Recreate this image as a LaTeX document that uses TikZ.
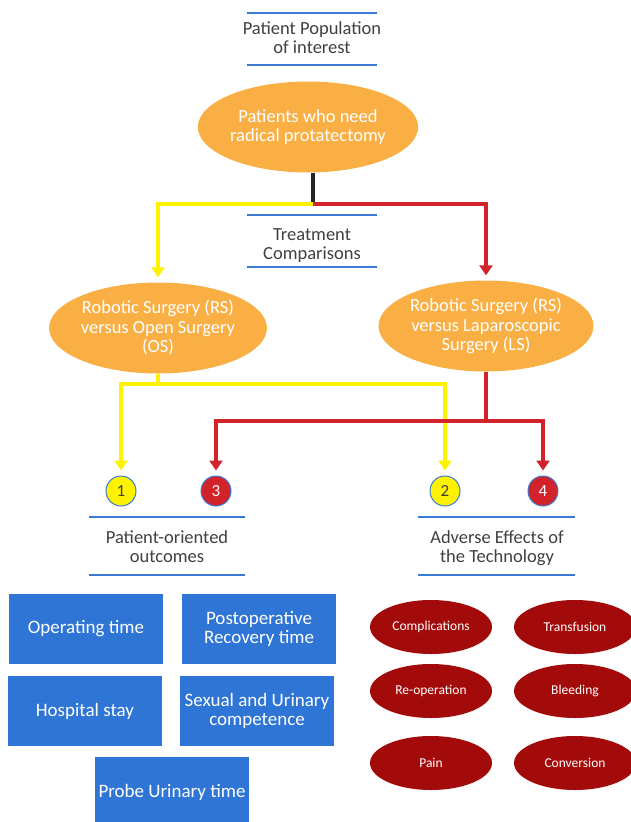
\documentclass[tikz,border=0pt]{standalone}
\usepackage{fontspec}
\setmainfont{Carlito}
\usetikzlibrary{positioning,arrows.meta}
\usetikzlibrary{shapes.geometric}

\definecolor{orangeFill}{HTML}{FAAF45}
\definecolor{yelLine}{HTML}{FFF200}
\definecolor{redLine}{HTML}{D2232A}
\definecolor{barBlue}{HTML}{3A7BD5}
\definecolor{boxBlue}{HTML}{2E75D5}
\definecolor{darkRed}{HTML}{A30B0B}
\definecolor{txtGray}{HTML}{404040}

\tikzset{
  heading/.style={text=txtGray, align=center, font=\fontsize{18.5}{19}\selectfont},
  bar/.style={barBlue, line width=2.5pt},
  treat/.style={ellipse, fill=orangeFill, text=white, align=center, inner sep=0pt,
    minimum width=210pt, minimum height=91pt, font=\fontsize{18.5}{19.5}\selectfont},
  num/.style={circle, draw=barBlue, line width=1pt, minimum size=30pt, inner sep=0pt,
    font=\fontsize{17}{17}\selectfont},
  outbox/.style={rectangle, fill=boxBlue, text=white, align=center, inner sep=0pt,
    minimum width=154pt, minimum height=70pt, font=\fontsize{19}{19.5}\selectfont},
  effect/.style={ellipse, fill=darkRed, text=white, inner sep=0pt,
    minimum width=122pt, minimum height=54pt, font=\fontsize{13.5}{15}\selectfont},
  yel/.style={yelLine, line width=4pt},
  rd/.style={redLine, line width=4pt},
  tip/.style={-{Triangle[width=13pt,length=10pt]}, shorten >=5pt}
}

\begin{document}
\begin{tikzpicture}[x=1pt,y=-1pt]
  \useasboundingbox (0,0) rectangle (630,822);

  % population
  \draw[bar] (247,13) -- (377,13);
  \node[heading] (poptitle) at (312,38) {Patient Population\\of interest};
  \draw[bar] (247,65) -- (377,65);
  \node[treat] (pop) at (308,127) {Patients who need\\radical protatectomy};

  % comparisons
  \coordinate (split) at (313,204);
  \draw[bar] (247,215) -- (377,215);
  \node[heading] (treattitle) at (312,246) {Treatment\\Comparisons};
  \draw[bar] (247,267) -- (377,267);
  \node[treat] (rsos) at (158,328) {Robotic Surgery (RS)\\versus Open Surgery\\(OS)};
  \node[treat] (rsls) at (486,326) {Robotic Surgery (RS)\\versus Laparoscopic\\Surgery (LS)};

  \draw[black!85, line width=4pt] (split |- pop.south) -- (split);
  \draw[yel,tip] (split) -| (rsos.north);
  \draw[rd,tip] (split) -| (rsls.north);

  % outcome numbers
  \node[num, fill=yelLine, text=txtGray] (n1) at (121,491) {1};
  \node[num, fill=redLine, text=white] (n3) at (216,491) {3};
  \node[num, fill=yelLine, text=txtGray] (n2) at (445,491) {2};
  \node[num, fill=redLine, text=white] (n4) at (543,491) {4};

  \coordinate (ysplit) at (158,384);
  \coordinate (rsplit) at (486,421);
  \draw[yel] (rsos.south) -- (ysplit);
  \draw[yel,tip] (ysplit) -| (n1.north);
  \draw[yel,tip] (ysplit) -| (n2.north);
  \draw[rd] (rsls.south) -- (rsplit);
  \draw[rd,tip] (rsplit) -| (n3.north);
  \draw[rd,tip] (rsplit) -| (n4.north);

  % headings of outcome groups
  \draw[bar] (89,517) -- (245,517);
  \node[heading] (patout) at (167,547) {Patient-oriented\\outcomes};
  \draw[bar] (89,575) -- (245,575);
  \draw[bar] (418,517) -- (575,517);
  \node[heading] (adverse) at (497,548) {Adverse Effects of\\the Technology};
  \draw[bar] (418,575) -- (575,575);

  % patient-oriented outcomes
  \node[outbox] (optime) at (86,629) {Operating time};
  \node[outbox] (recov) at (259,629) {Postoperative\\Recovery time};
  \node[outbox] (stay) at (85,711) {Hospital stay};
  \node[outbox] (sexual) at (257,711) {Sexual and Urinary\\competence};
  \node[outbox] (probe) at (172,792) {Probe Urinary time};

  % adverse effects
  \node[effect] (compl) at (431,627) {Complications};
  \node[effect] (transf) at (575,627) {Transfusion};
  \node[effect] (reop) at (431,691) {Re-operation};
  \node[effect] (bleed) at (575,691) {Bleeding};
  \node[effect] (pain) at (431,763) {Pain};
  \node[effect] (conv) at (575,763) {Conversion};
\end{tikzpicture}
\end{document}
